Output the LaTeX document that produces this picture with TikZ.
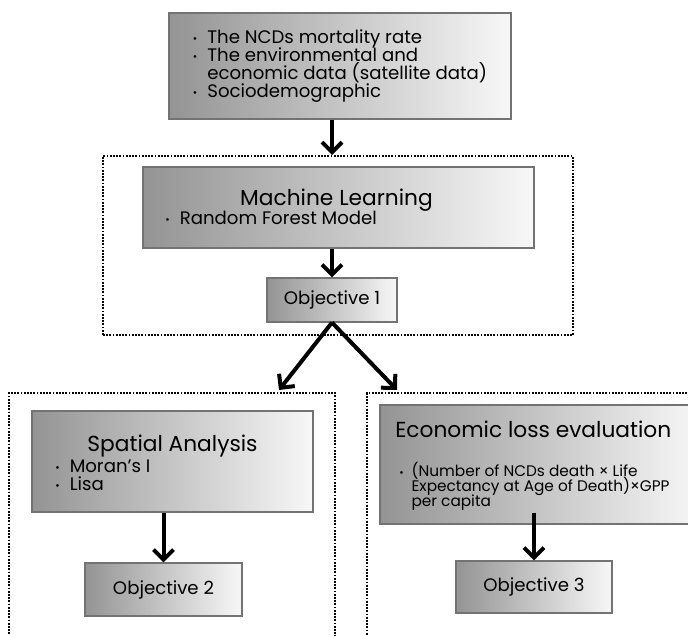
\documentclass[tikz,border=0pt]{standalone}
\usepackage{fontspec}
\setmainfont{Poppins}
\usetikzlibrary{arrows.meta}
\newcommand{\bul}{\makebox[0.8em][l]{\raisebox{.1ex}{\footnotesize\textbullet}}}
\newcommand{\tightlines}{\lineskiplimit=-20pt\relax}

\begin{document}
\begin{tikzpicture}[x=0.75pt,y=-0.75pt,
  box/.style={rectangle,draw=black!55,line width=0.8pt,left color=black!42,right color=black!3,inner sep=0pt},
  grp/.style={rectangle,draw,line width=1.5pt,dash pattern=on 1.3pt off 1.1pt,inner sep=0pt},
  arr/.style={-{Straight Barb[length=7.5pt,width=15pt]},line width=3pt},
  txt/.style={inner sep=0pt,align=left,font=\fontsize{13.6}{13.5}\selectfont\tightlines},
  ttl/.style={inner sep=0pt,font=\fontsize{16.3}{18}\selectfont}]
  \useasboundingbox (0,0) rectangle (688,635);
  % dotted groups
  \node[grp,minimum width=352.5pt,minimum height=134.25pt] (mlgrp) at (338,245.5) {};
  \node[grp,minimum width=244.5pt,minimum height=200.25pt] (spgrp) at (172,526.5) {};
  \node[grp,minimum width=264.75pt,minimum height=200.25pt] (ecgrp) at (543.5,526.5) {};

  \node[box,txt,minimum width=256.5pt,minimum height=79.5pt] (data) at (340,66)
    {\bul The NCDs mortality rate\\\bul The environmental and\\\hphantom{\bul}economic data (satellite data)\\\bul Sociodemographic};

  \node[box,minimum width=293.25pt,minimum height=60.75pt] (ml) at (338.5,207.5) {};
  \node[ttl,anchor=base] (mlttl) at (336.5,205) {Machine Learning};
  \node[txt,anchor=base west] (mlitem) at (165,224) {\bul Random Forest Model};
  \node[box,txt,minimum width=97.5pt,minimum height=33pt] (obj1) at (332,300) {Objective 1};

  \node[box,minimum width=210.75pt,minimum height=75.75pt] (sp) at (172.5,461.5) {};
  \node[ttl,anchor=base] (spttl) at (172.5,451) {Spatial Analysis};
  \node[txt,anchor=base west] (spitem) at (55,490) {\bul Moran’s I\\\bul Lisa};
  \node[box,txt,minimum width=117.75pt,minimum height=39.75pt] (obj2) at (163.5,589.5) {Objective 2};

  \node[box,minimum width=240pt,minimum height=89.25pt] (ec) at (540,464.5) {};
  \node[ttl,anchor=base west] (ecttl) at (395,437) {Economic loss evaluation};
  \node[txt,anchor=base west,font=\fontsize{11.5}{10.9}\selectfont\tightlines] (ecitem) at (399,506)
    {\bul (Number of NCDs death × Life\\\hphantom{\bul}Expectancy at Age of Death)×GPP\\\hphantom{\bul}per capita};
  \node[box,txt,minimum width=117pt,minimum height=39pt] (obj3) at (534,587) {Objective 3};

  \coordinate (tipl) at (279,390);
  \coordinate (tipr) at (397,390);

  \draw[arr] (data.south -| obj1.north) -- (mlgrp.north -| obj1.north);
  \draw[arr] (ml.south -| obj1.north) -- (obj1.north);
  \draw[arr] (obj1.south) -- (tipl);
  \draw[arr] (obj1.south) -- (tipr);
  \draw[arr] (sp.south -| obj2.north) -- (obj2.north);
  \draw[arr] ([yshift=9pt]ec.south -| obj3.north) -- (obj3.north);
\end{tikzpicture}
\end{document}
